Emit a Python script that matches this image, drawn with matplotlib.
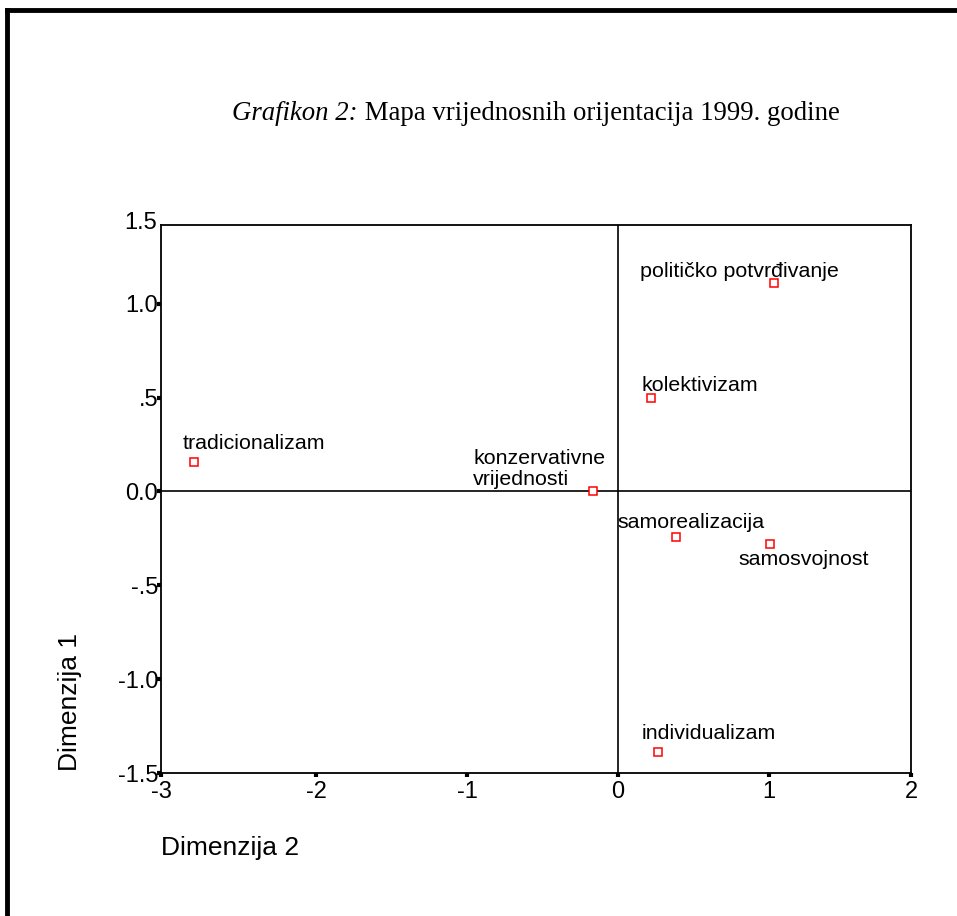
import matplotlib.pyplot as plt
from matplotlib.lines import Line2D

# value orientations, correspondence map 1999
labels = ['političko potvrđivanje', 'kolektivizam', 'tradicionalizam',
          'konzervativne\nvrijednosti', 'samorealizacija', 'samosvojnost',
          'individualizam']
dim2 = [1.035, 0.22, -2.81, -0.166, 0.385, 1.01, 0.27]
dim1 = [1.11, 0.50, 0.156, 0.0, -0.24, -0.28, -1.39]

xticklabels = ['-3', '-2', '-1', '0', '1', '2']
yticks = [-1.5, -1.0, -0.5, 0.0, 0.5, 1.0]
yticklabels = ['-1.5', '-1.0', '-.5', '0.0', '.5', '1.0']

# label offsets in points (left edge, baseline) from each marker
offsets = [(-96, 4.3), (-7, 5), (-8, 9.4), (-86, 5), (-42, 5.8), (-23, -15), (-12, 9.4)]

plt.rcParams['font.family'] = ['Liberation Sans', 'DejaVu Sans']

fig = plt.figure(figsize=(9.57, 9.16), dpi=100)
ax = fig.add_axes([161/957, 1-773/916, 750/957, 548/916])

ax.axhline(0, color='black', lw=1.2, zorder=1)
ax.axvline(0, color='black', lw=1.2, zorder=1)
ax.plot(dim2, dim1, ls='none', marker='s', ms=5.5, mfc='white', mec='red',
        mew=1.1, zorder=3)

for lab, x, y, off in zip(labels, dim2, dim1, offsets):
    ax.annotate(lab, (x, y), xytext=off, textcoords='offset points',
                ha='left', va='baseline', fontsize=15.4, linespacing=1.1)

# SPSS places the outer x labels at the frame edges
xmin, xmax = -3.03, 1.945
ax.set_xlim(xmin, xmax)
ax.set_ylim(-1.5, 1.42)
ax.set_xticks([xmin, -2, -1, 0, 1, xmax])
ax.set_xticklabels(xticklabels, fontsize=17)
ax.set_yticks(yticks)
ax.set_yticklabels(yticklabels, fontsize=17)
ax.tick_params(direction='out', length=3, width=3, color='black')
ax.tick_params(axis='y', pad=-1)
ax.tick_params(axis='x', pad=3)
for s in ax.spines.values():
    s.set_linewidth(1.3)

# 1.5 label sits at the top corner
fig.text(157/957, 1-223/916, '1.5', ha='right', va='center', fontsize=17)

fig.text(161/957, 1-848/916, 'Dimenzija 2', ha='left', va='center', fontsize=19)
fig.text(70/957, 1-771/916, 'Dimenzija 1', ha='center', va='bottom',
         rotation=90, fontsize=19)

t1 = fig.text(232/957, 1-114/916, 'Grafikon 2:', ha='left', va='center',
              fontsize=19.3, family='Liberation Serif', style='italic')
ax.annotate(' Mapa vrijednosnih orijentacija 1999. godine', xy=(1, 0),
            xycoords=t1, va='bottom', ha='left', fontsize=19.3,
            family='Liberation Serif', annotation_clip=False)

# page border (top and left)
fig.add_artist(Line2D([7/957, 1], [1-10/916, 1-10/916], color='black', lw=3.5))
fig.add_artist(Line2D([7/957, 7/957], [0, 1-10/916], color='black', lw=3.5))

fig.savefig('out.png', dpi=100)
